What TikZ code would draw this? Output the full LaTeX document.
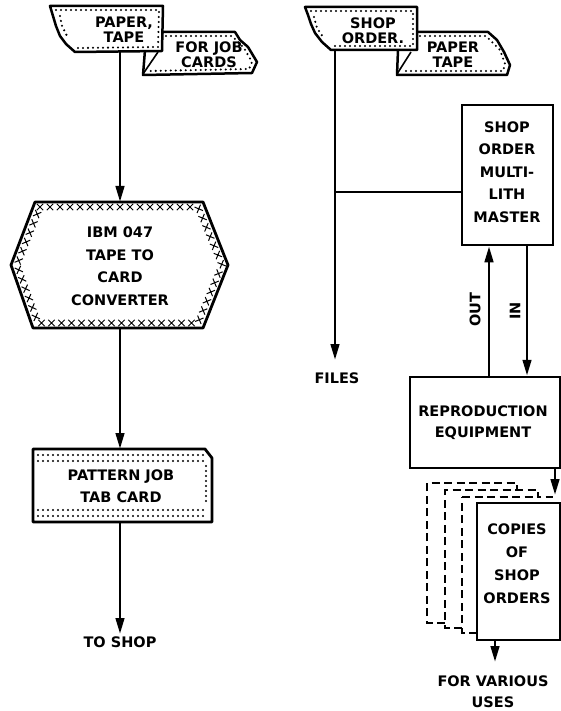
\documentclass[tikz,border=0pt]{standalone}
\usepackage{fontspec}
\setmainfont{DejaVu Sans}
\usetikzlibrary{arrows.meta,decorations.markings}
\tikzset{
  lab/.style={font=\bfseries\fontsize{14.5}{22.5}\selectfont, align=center, inner sep=0pt},
  tapelab/.style={font=\bfseries\fontsize{14.5}{15}\selectfont, align=center, inner sep=0pt},
  flow/.style={line width=2.8pt, -{Triangle[length=16pt,width=8.5pt]}},
  plain/.style={line width=2.6pt},
  outline/.style={line width=2.5pt, line join=round},
  boxnode/.style={draw, line width=2.5pt, inner sep=0pt},
  dots/.style={line width=2.3pt, dash pattern=on 0pt off 5pt, line cap=round},
  crosses/.style={decoration={markings, mark=between positions 0 and 1 step 10pt with {
      \draw[line width=1pt] (-3.2pt,-3.2pt)--(3.2pt,3.2pt) (-3.2pt,3.2pt)--(3.2pt,-3.2pt);}}, decorate},
  copydash/.style={line width=2pt, dash pattern=on 8pt off 4.5pt}
}
\begin{document}
\begin{tikzpicture}[x=1pt,y=-1pt]
\useasboundingbox (0,0) rectangle (561,711);

% ---------- left column ----------
% second tape (behind): FOR JOB CARDS
\draw[outline, fill=white] (163,32) -- (235,32) -- (240,40) -- (248,47) -- (257,62) -- (252,73) -- (143,75) -- (145,50) -- cycle;
\draw[line width=1.6pt] (143,74) -- (158,52);
\draw[dots] (166,36) -- (232,36) -- (244,48) -- (252,62) -- (249,69) -- (150,71);
\node[tapelab] (t2lab) at (209,55) {FOR JOB\\CARDS};
% first tape: PAPER, TAPE
\draw[outline, fill=white] (50,6) -- (163,6) -- (162,51) -- (75,52) -- (66,44) -- (60,36) -- (56,26) -- (53,16) -- cycle;
\draw[dots] (56,10) -- (159,10) -- (158,47) -- (78,48);
\draw[dots] (60,16) -- (62,26) -- (68,38);
\node[tapelab] (t1lab) at (124,30) {PAPER,\\TAPE};
\coordinate (t1b) at (120,52);

% hexagon converter
\coordinate (hT) at (120,202);
\coordinate (hB) at (120,328);
\draw[outline, line width=2.8pt] (35,202) -- (203,202) -- (228,265) -- (203,328) -- (33,328) -- (11,265) -- cycle;
\path[crosses] (40,207) -- (198,207) -- (222,265) -- (198,323) -- (38,323) -- (17,265) -- cycle;
\node[lab] (conv) at (120,266) {IBM 047\\TAPE TO\\CARD\\CONVERTER};
\draw[flow] (t1b) -- (hT);

% pattern job tab card
\draw[outline, line width=2.8pt] (33,449) -- (205,449) -- (212,458) -- (212,522) -- (33,522) -- cycle;
\draw[dots] (38,455) -- (203,455);
\draw[dots] (38,461) -- (205,461);
\draw[dots] (38,510) -- (207,510);
\draw[dots] (38,516) -- (207,516);
\draw[dots] (206,466) -- (206,505);
\node[lab] (card) at (121,486) {PATTERN JOB\\TAB CARD};
\coordinate (cT) at (120,449);
\coordinate (cB) at (120,522);
\draw[flow] (hB) -- (cT);
\node[lab] (shop) at (120,642) {TO SHOP};
\draw[flow] (cB) -- (120,634);

% ---------- right column ----------
% second tape: PAPER TAPE
\draw[outline, fill=white] (417,32) -- (488,32) -- (497,40) -- (504,52) -- (510,65) -- (507,75) -- (397,75) -- (398,50) -- cycle;
\draw[line width=1.6pt] (397,74) -- (411,52);
\draw[dots] (420,36) -- (486,36) -- (500,50) -- (505,64) -- (503,71) -- (404,71);
\node[tapelab] (t4lab) at (453,55) {PAPER\\TAPE};
% first tape: SHOP ORDER.
\draw[outline, fill=white] (305,7) -- (417,7) -- (417,50) -- (331,50) -- (322,42) -- (315,33) -- (311,24) -- (308,15) -- cycle;
\draw[dots] (311,11) -- (413,11) -- (413,46) -- (334,46);
\draw[dots] (314,17) -- (317,28) -- (323,37);
\node[tapelab] (t3lab) at (373,31) {SHOP\\ORDER.};
\coordinate (t3b) at (335,50);

% files
\node[lab] (files) at (337,378) {FILES};
\draw[flow] (t3b) -- (335,360) coordinate (fend);
% multilith master
\node[boxnode, minimum width=91pt, minimum height=140pt] (master) at (507.5,175) {};
\node[lab] (mlab) at (507,172) {SHOP\\ORDER\\MULTI-\\LITH\\MASTER};
\coordinate (jn) at (335,192);
\draw[plain] (jn) -- (jn -| master.west);

% reproduction equipment
\node[boxnode, minimum width=150pt, minimum height=91pt] (repro) at (485,422.5) {};
\node[lab, font=\bfseries\fontsize{14.5}{21}\selectfont] (rlab) at (483,422.5) {REPRODUCTION\\EQUIPMENT};
\coordinate (outx) at (489,300);
\coordinate (inx) at (527,300);
\draw[flow] (outx |- repro.north) -- (outx |- master.south);
\draw[flow] (inx |- master.south) -- (inx |- repro.north);
\node[lab, rotate=90] (outlab) at (475,310) {OUT};
\node[lab, rotate=90] (inlab) at (515,311) {IN};

% copies of shop orders (stack)
\draw[copydash] (445,623) -- (427,623) -- (427,483) -- (517,483) -- (517,489);
\draw[copydash] (462,628) -- (445,628) -- (445,490) -- (538,490) -- (538,497) -- (553,497);
\draw[copydash] (477,633) -- (462,633) -- (462,497);
\node[boxnode, fill=white, minimum width=83pt, minimum height=137pt] (copies) at (518.5,571.5) {};
\draw[copydash] (462,497) -- (540,497);
\node[lab, font=\bfseries\fontsize{14.5}{23}\selectfont] (clab) at (517,564) {COPIES\\OF\\SHOP\\ORDERS};
\coordinate (cpx) at (555,480);
\draw[flow] (cpx |- repro.south) -- (555,495) coordinate (cpend);

% for various uses
\node[lab, font=\bfseries\fontsize{14.5}{21}\selectfont] (uses) at (493,692) {FOR VARIOUS\\USES};
\coordinate (ux) at (495,650);
\draw[flow] (ux |- copies.south) -- (495,662) coordinate (uend);
\end{tikzpicture}
\end{document}
